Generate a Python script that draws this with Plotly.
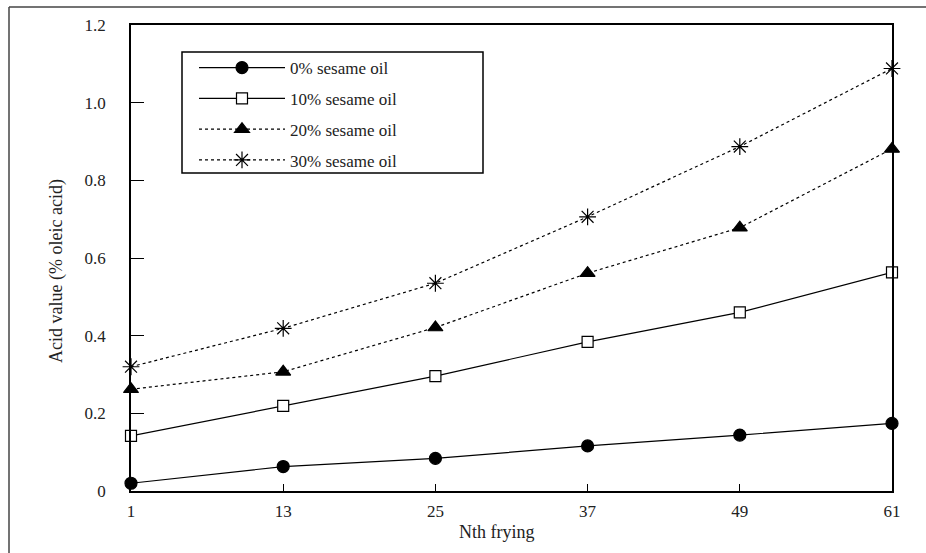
import plotly.graph_objects as go

frying = [1, 13, 25, 37, 49, 61]
oil0 = [0.020, 0.063, 0.084, 0.116, 0.144, 0.174]
oil10 = [0.142, 0.219, 0.296, 0.384, 0.460, 0.563]
oil20 = [0.262, 0.307, 0.421, 0.561, 0.678, 0.881]
oil30 = [0.320, 0.419, 0.535, 0.706, 0.887, 1.088]
names = ["0% sesame oil", "10% sesame oil", "20% sesame oil", "30% sesame oil"]
ytick_vals = [0, 0.2, 0.4, 0.6, 0.8, 1.0, 1.2]
ytick_text = ["0", "0.2", "0.4", "0.6", "0.8", "1.0", "1.2"]
xtick_vals = [1, 13, 25, 37, 49, 61]

FONT = "Liberation Serif"
W, H = 926, 553
L, R, T, B = 131, 34, 25, 62
pw, ph = W - L - R, H - T - B


def px(x):
    return (x - L) / pw


def py(y):
    return 1 - (y - T) / ph


styles = [
    dict(dash="solid", symbol="circle", fill="black"),
    dict(dash="solid", symbol="square", fill="white"),
    dict(dash="dot", symbol="triangle-up", fill="black"),
    dict(dash="dot", symbol="asterisk-open", fill="black"),
]
sizes = [12, 11, 13, 14]

fig = go.Figure()
for i, (name, ys) in enumerate(zip(names, [oil0, oil10, oil20, oil30])):
    st = styles[i]
    fig.add_trace(go.Scatter(
        x=frying, y=ys, name=name, mode="lines+markers",
        legendgroup=f"g{i}",
        line=dict(color="black", width=1.2, dash=st["dash"]),
        marker=dict(symbol=st["symbol"], size=sizes[i], color=st["fill"],
                    line=dict(color="black", width=1.2)),
        cliponaxis=False,
    ))

fig.update_layout(
    width=W, height=H,
    margin=dict(l=L, r=R, t=T, b=B),
    paper_bgcolor="white", plot_bgcolor="white",
    font=dict(family=FONT, size=17, color="#222"),
    showlegend=True,
    legend=dict(
        x=px(194), y=py(50), xanchor="left", yanchor="top",
        borderwidth=0, bgcolor="rgba(0,0,0,0)",
        font=dict(family=FONT, size=17, color="#222"),
        tracegroupgap=5.7, itemwidth=86,
    ),
    xaxis=dict(
        range=[1, 61], tickvals=xtick_vals, ticks="inside", ticklen=7,
        tickwidth=1.2, tickcolor="black", showline=True, linecolor="black",
        linewidth=1.5, mirror=True, showgrid=False, zeroline=False,
        ticklabelstandoff=4,
        tickfont=dict(family=FONT, size=17, color="#222"),
    ),
    yaxis=dict(
        range=[0, 1.2], tickvals=ytick_vals, ticktext=ytick_text,
        ticks="inside", ticklen=13, tickwidth=1.2, tickcolor="black",
        showline=True, linecolor="black", linewidth=1.5, mirror=True,
        showgrid=False, zeroline=False, ticklabelstandoff=20,
        tickfont=dict(family=FONT, size=17, color="#222"),
    ),
    annotations=[
        dict(text="Acid value (% oleic acid)", textangle=-90,
             xref="paper", yref="paper", xanchor="center", yanchor="middle",
             x=px(56), y=py(271),
             showarrow=False, font=dict(family=FONT, size=18, color="#222")),
        dict(text="Nth frying", xref="paper", yref="paper",
             xanchor="center", yanchor="middle",
             x=px(497), y=py(532),
             showarrow=False, font=dict(family=FONT, size=18, color="#222")),
    ],
    shapes=[
        dict(type="rect", xref="paper", yref="paper", layer="above",
             x0=px(182), x1=px(483), y0=py(52), y1=py(173),
             fillcolor="rgba(255,255,255,0)", line=dict(color="black", width=1.5)),
        dict(type="line", xref="paper", yref="paper",
             x0=px(9), x1=px(9), y0=py(7), y1=-0.3,
             line=dict(color="#444", width=1.5)),
        dict(type="line", xref="paper", yref="paper",
             x0=px(9), x1=1.2, y0=py(7), y1=py(7),
             line=dict(color="#444", width=1.5)),
    ],
)

fig.write_html("out.html")
